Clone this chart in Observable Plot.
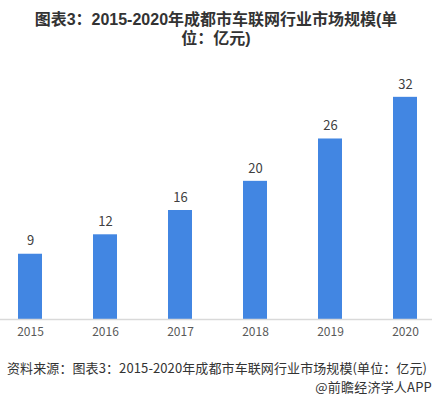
<!DOCTYPE html>
<html>
<head>
<meta charset="utf-8">
<script src="https://cdn.jsdelivr.net/npm/d3@7"></script>
<script src="https://cdn.jsdelivr.net/npm/@observablehq/plot@0.6"></script>
<style>
  html, body { margin: 0; padding: 0; background: #fff; width: 432px; overflow: hidden; }
  #title { font-family: "Liberation Sans", "Noto Sans CJK SC", sans-serif; font-weight: bold; font-size: 16px; line-height: 19px;
           color: #333; text-align: center; padding-top: 10px; height: 36px; }
  #chart svg { display: block; }
  #caption { font-family: "Noto Sans CJK SC", sans-serif; font-size: 13px; line-height: 19px; color: #333;
             margin-top: 12px; white-space: nowrap; overflow: hidden; letter-spacing: 0.1px; }
  #cap1 { padding-left: 7px; }
  #cap2 { text-align: right; letter-spacing: 0.2px; }
</style>
</head>
<body>
<div id="title">图表3：2015-2020年成都市车联网行业市场规模(单<br>位：亿元)</div>
<div id="chart"></div>
<div id="caption">
  <div id="cap1">资料来源：图表3：2015-2020年成都市车联网行业市场规模(单位：亿元)</div>
  <div id="cap2">@前瞻经济学人APP</div>
</div>
<script>
const years = ["2015", "2016", "2017", "2018", "2019", "2020"];
const values = [9.4, 12.2, 15.7, 19.9, 26, 32];
const labels = ["9", "12", "16", "20", "26", "32"];

const data = years.map((y, i) => ({year: y, value: values[i], label: labels[i]}));

const chart = Plot.plot({
  width: 432,
  height: 300,
  marginLeft: 0,
  marginRight: 0,
  marginTop: 30,
  marginBottom: 27,
  style: {fontFamily: "'Noto Sans CJK SC', sans-serif", background: "#fff"},
  x: {domain: years, range: [17, 417], paddingInner: 0.68, paddingOuter: 0, label: null},
  y: {domain: [0, 35], axis: null},
  marks: [
    Plot.barY(data, {x: "year", y: "value", fill: "#4286e2"}),
    Plot.ruleY([0], {stroke: "#d9d9d9", strokeWidth: 1.5}),
    Plot.text(data, {x: "year", y: "value", text: "label", dy: -13, fontSize: 13, fill: "#404040"}),
    Plot.axisX({tickSize: 0, tickPadding: 8, fontSize: 12, color: "#595959", label: null})
  ]
});
document.getElementById("chart").appendChild(chart);
</script>
</body>
</html>
